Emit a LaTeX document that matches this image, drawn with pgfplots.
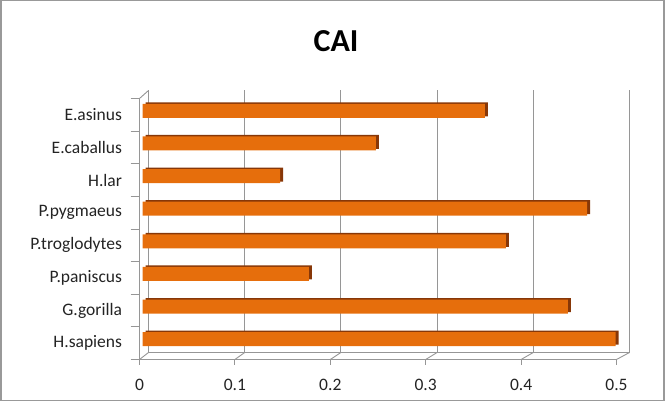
\documentclass[border=0pt]{standalone}
\usepackage{pgfplots}
\usepackage{pgfplotstable}
\pgfplotsset{compat=1.18}
\usepackage{fontspec}
\setmainfont{Carlito}
\definecolor{barfront}{RGB}{230,110,12}
\definecolor{bardark}{RGB}{135,55,8}
\definecolor{gridc}{RGB}{150,150,150}
\definecolor{txt}{RGB}{35,35,35}
\pgfplotstableread{
val idx
0.495 0
0.445 1
0.174 2
0.380 3
0.465 4
0.144 5
0.244 6
0.358 7
}\cai
\begin{document}
\begin{tikzpicture}
\useasboundingbox (0bp,0bp) rectangle (665bp,401bp);
\draw[gray!80, line width=1.2bp] (1bp,0.8bp) rectangle (664bp,400.2bp);
\node[font=\bfseries\fontsize{32bp}{36bp}\selectfont, text=black, anchor=base, inner sep=0pt] at (336bp,349bp) {CAI};
% back wall
\begin{axis}[name=back, at={(148.5bp,48.5bp)}, anchor=south west, scale only axis,
  width=481bp, height=262bp, xmin=0, xmax=0.5, ymin=0, ymax=1,
  axis x line*=bottom, axis y line=none,
  xtick={0,0.1,0.2,0.3,0.4,0.5}, xticklabels={}, ytick=\empty, major tick length=0pt,
  xmajorgrids, grid style={gridc, line width=0.9bp},
  axis line style={gridc, line width=0.9bp}]
\pgfplotsinvokeforeach{0,...,5}{\coordinate (b#1) at (axis cs:0.#1,0);}
\coordinate (bt) at (axis cs:0,1);
\end{axis}
% front plane with labels
\begin{axis}[name=front, at={(139.5bp,41.5bp)}, anchor=south west, scale only axis,
  width=477bp, height=261bp, xmin=0, xmax=0.5, ymin=-0.5, ymax=7.5,
  axis x line*=bottom, axis y line*=left,
  axis line style={gridc, line width=0.9bp},
  xtick={0,0.1,0.2,0.3,0.4,0.5},
  xticklabels={0,0.1,0.2,0.3,0.4,0.5},
  ytick={0,...,7},
  yticklabels={H.sapiens,G.gorilla,P.paniscus,P.troglodytes,P.pygmaeus,H.lar,E.caballus,E.asinus},
  minor ytick={-0.5,0.5,...,7.5},
  tick align=outside, major tick length=5bp, minor tick length=9bp,
  tick style={gridc, line width=0.9bp},
  every major y tick/.style={draw=none},
  ticklabel style={font=\fontsize{17.5bp}{20bp}\selectfont, text=txt},
  yticklabel style={xshift=-9bp},
  xticklabel style={yshift=-11bp},
  /pgf/number format/assume math mode=true]
\pgfplotsinvokeforeach{0,...,5}{\coordinate (f#1) at (axis cs:0.#1,-0.5);}
\coordinate (ft) at (axis cs:0,7.5);
\end{axis}
\foreach \i in {0,...,5} \draw[gridc, line width=0.9bp] (f\i) -- (b\i);
\draw[gridc, line width=0.9bp] (ft) -- (bt);
% bar depth (dark)
\begin{axis}[at={(145.5bp,47bp)}, anchor=south west, scale only axis,
  width=478bp, height=261bp, xmin=0, xmax=0.5, ymin=-0.5, ymax=7.5,
  hide axis, xbar, bar width=14bp]
\addplot[fill=bardark, draw=none] table[x=val, y=idx] {\cai};
\end{axis}
% bar front faces
\begin{axis}[at={(142.5bp,45.5bp)}, anchor=south west, scale only axis,
  width=478bp, height=261bp, xmin=0, xmax=0.5, ymin=-0.5, ymax=7.5,
  hide axis, xbar, bar width=14bp]
\addplot[fill=barfront, draw=none] table[x=val, y=idx] {\cai};
\end{axis}
\end{tikzpicture}
\end{document}
